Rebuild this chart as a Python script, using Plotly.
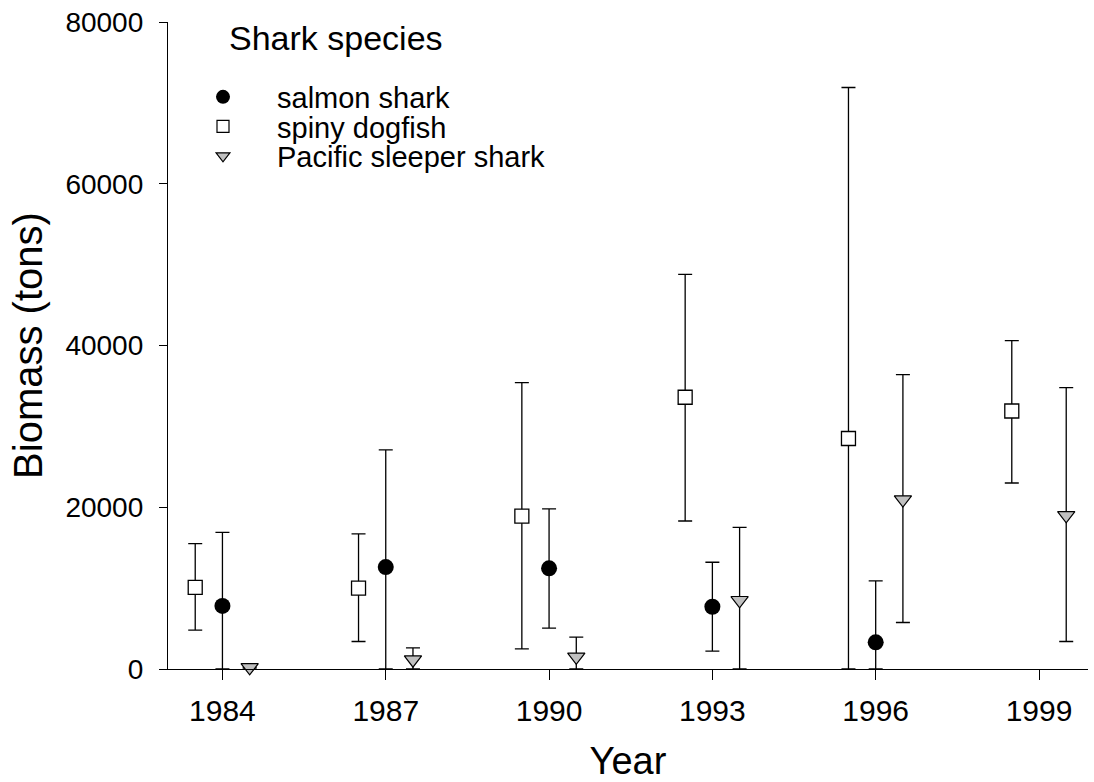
import plotly.graph_objects as go

# Survey years and biomass estimates (tons) with confidence limits
years = [1984, 1987, 1990, 1993, 1996, 1999]

dogfish = [10100, 10000, 18900, 33600, 28500, 31900]
dogfish_hi = [15500, 16700, 35400, 48800, 71900, 40600]
dogfish_lo = [4800, 3400, 2500, 18300, 0, 23000]

salmon_years = [1984, 1987, 1990, 1993, 1996]
salmon = [7800, 12600, 12450, 7700, 3300]
salmon_hi = [16900, 27100, 19800, 13200, 10900]
salmon_lo = [0, 0, 5050, 2200, 0]

sleeper = [200, 1150, 1500, 8500, 20950, 19000]
sleeper_hi = [200, 2600, 3950, 17500, 36400, 34800]
sleeper_lo = [0, 0, 0, 0, 5750, 3400]

species = ["salmon shark", "spiny dogfish", "Pacific sleeper shark"]
y_ticks = [0, 20000, 40000, 60000, 80000]

FONT = "Liberation Sans, Arial, sans-serif"
SHIFT = 0.5  # horizontal dodge between species within a survey year


def err(vals, hi, lo):
    return dict(
        type="data",
        array=[h - v for v, h in zip(vals, hi)],
        arrayminus=[v - l for v, l in zip(vals, lo)],
        color="black",
        thickness=1.3,
        width=7,
    )


fig = go.Figure()

fig.add_trace(go.Scatter(
    x=[y - SHIFT for y in years], y=dogfish, mode="markers", showlegend=False,
    marker=dict(symbol="square", size=14, color="white", line=dict(color="black", width=1.3)),
    error_y=err(dogfish, dogfish_hi, dogfish_lo),
))
fig.add_trace(go.Scatter(
    x=salmon_years, y=salmon, mode="markers", showlegend=False,
    marker=dict(symbol="circle", size=16, color="black", line=dict(color="black", width=0)),
    error_y=err(salmon, salmon_hi, salmon_lo),
))
fig.add_trace(go.Scatter(
    x=[y + SHIFT for y in years], y=sleeper, mode="markers", showlegend=False,
    cliponaxis=False,
    marker=dict(symbol="triangle-down", size=15, color="#c0c0c0", line=dict(color="black", width=1.2)),
    error_y=err(sleeper, sleeper_hi, sleeper_lo),
))

# Legend entries (one small legend per species so the rows sit close together)
legend_markers = [
    dict(symbol="circle", size=14, color="black", line=dict(color="black", width=0)),
    dict(symbol="square", size=12, color="white", line=dict(color="black", width=1.2)),
    dict(symbol="triangle-down", size=12, color="#c0c0c0", line=dict(color="black", width=1.2)),
]
legend_names = ["legend", "legend2", "legend3"]
row_px = [97, 126.5, 156]

PL, PT, PW, PH = 168, 22, 920, 647

layout_legends = {}
for name, lab, mk, py in zip(legend_names, species, legend_markers, row_px):
    fig.add_trace(go.Scatter(
        x=[None], y=[None], mode="markers", name=lab, marker=mk,
        legend=name, showlegend=True,
    ))
    layout_legends[name] = dict(
        x=(169 - PL) / PW, xanchor="left",
        y=1 - (py - PT) / PH, yanchor="middle",
        bgcolor="rgba(0,0,0,0)", borderwidth=0,
        font=dict(family=FONT, size=29, color="black"),
        itemwidth=98, itemsizing="trace",
    )

fig.add_annotation(
    text="Shark species", xref="paper", yref="paper",
    x=(227 - PL) / PW, y=1 - (17 - PT) / PH, xanchor="left", yanchor="top",
    showarrow=False, font=dict(family=FONT, size=34, color="black"),
)

fig.update_layout(
    width=1094, height=782,
    margin=dict(l=PL, r=1094 - PL - PW, t=PT, b=782 - PT - PH, autoexpand=False),
    paper_bgcolor="white", plot_bgcolor="white",
    font=dict(family=FONT, color="black"),
    **layout_legends,
)

fig.update_xaxes(
    range=[1983, 1999.9], tickvals=years, ticktext=[str(y) for y in years],
    showgrid=False, zeroline=False, showline=True, linecolor="black", linewidth=1.3,
    ticks="outside", ticklen=10, tickwidth=1.3, tickcolor="black",
    tickfont=dict(family=FONT, size=30), ticklabelstandoff=5,
    title=dict(text="Year", font=dict(family=FONT, size=38), standoff=24),
    automargin=False,
)
fig.update_yaxes(
    range=[0, 80000], tickvals=y_ticks, ticktext=[str(v) for v in y_ticks],
    showgrid=False, zeroline=False, showline=True, linecolor="black", linewidth=1.3,
    ticks="outside", ticklen=8, tickwidth=1.3, tickcolor="black",
    tickfont=dict(family=FONT, size=28), ticklabelstandoff=10,
    title=dict(text="Biomass (tons)", font=dict(family=FONT, size=40), standoff=10),
    automargin=False,
)

fig.write_html("out.html")
